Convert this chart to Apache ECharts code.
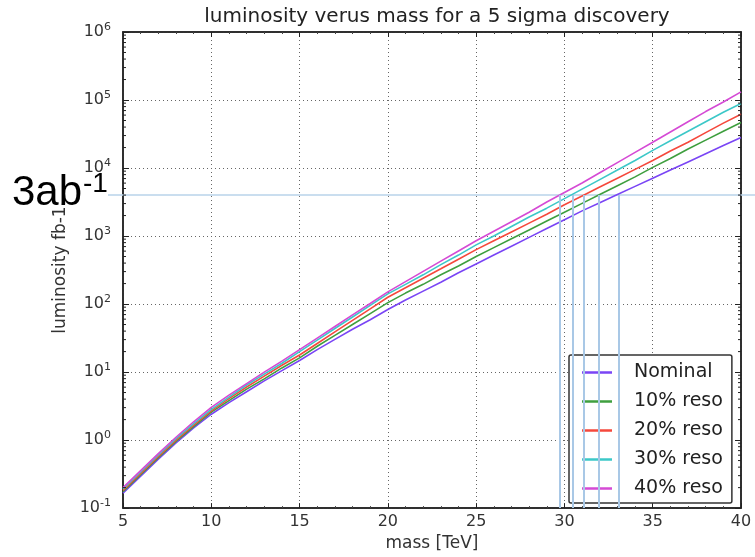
<!DOCTYPE html>
<html>
<head>
<meta charset="utf-8">
<script src="https://cdn.jsdelivr.net/npm/echarts@6/dist/echarts.min.js"></script>
<style>html,body{margin:0;padding:0;background:#fff}#c{width:755px;height:557px}</style>
</head>
<body>
<div id="c"></div>
<script>
// ---- data ----
const mass = [5,6,7,8,9,10,11,12,13,14,15,16,17,18,19,20,21,22,23,24,25,26,27,28,29,30,31,32,33,34,35,36,37,38,39,40];
const nominal = [0.166,0.295,0.525,0.912,1.51,2.40,3.55,5.13,7.41,10.5,14.8,21.4,30.2,42.7,58.9,83.2,115,155,209,288,389,525,708,955,1288,1738,2344,3090,4074,5370,7079,9333,12303,16218,21380,28184];
const reso10 = [0.174,0.309,0.550,0.955,1.58,2.57,3.80,5.62,7.94,11.5,16.2,24.0,34.7,50.1,72.4,105,145,195,269,363,501,676,912,1230,1660,2239,3020,4074,5495,7413,10233,13804,19055,25704,34674,46774];
const reso20 = [0.182,0.324,0.575,1.00,1.66,2.69,4.07,6.03,8.71,12.6,17.8,26.3,38.9,57.5,85.1,126,174,240,331,457,631,851,1148,1549,2089,2884,3890,5248,7079,9550,12882,17783,23988,33113,45709,61660];
const reso30 = [0.191,0.339,0.603,1.05,1.74,2.82,4.27,6.46,9.33,13.5,20.0,29.5,43.7,64.6,95.5,141,195,269,380,525,741,1000,1380,1905,2570,3548,4898,6761,9333,12882,18197,25119,34674,47863,66069,89125];
const reso40 = [0.200,0.355,0.631,1.10,1.86,3.02,4.57,6.76,10.0,14.5,21.4,31.6,46.8,69.2,102,151,214,302,427,603,851,1175,1622,2239,3162,4365,6026,8511,12023,16982,23988,33884,47863,67608,93325,131826];
const seriesNames = ['Nominal','10% reso','20% reso','30% reso','40% reso'];
const seriesColors = ['#7a45f5','#3f9f3f','#f5483c','#3cc8c8','#d54ad5'];
const target = 4000;                      // "3ab-1" reference level
const crossMass = [29.75,30.45,31.12,31.95,33.07]; // vertical markers
const yTickExp = ['-1','0','1','2','3','4','5','6'];
const yMinorTicks = [];
[0.1,1,10,100,1000,10000,100000].forEach(d => { [2,3,4,5,6,7,8,9].forEach(k => yMinorTicks.push(+(d * k).toPrecision(3))); });

const chart = echarts.init(document.getElementById('c'));
const allSeries = [nominal, reso10, reso20, reso30, reso40];
const font = 'DejaVu Sans';

const lineSeries = allSeries.map((vals, k) => ({
  name: seriesNames[k],
  type: 'line',
  data: mass.map((m, i) => [m, vals[i]]),
  showSymbol: false,
  symbol: 'none',
  lineStyle: {color: seriesColors[k], width: 1.6},
  itemStyle: {color: seriesColors[k]},
  z: 3,
  animation: false
}));

lineSeries.push({
  name: 'marks',
  type: 'line',
  data: [],
  animation: false,
  markLine: {
    silent: true,
    symbol: ['none','none'],
    label: {show: false},
    lineStyle: {color: '#a9c8e6', width: 2, type: 'solid'},
    data: crossMass.map(m => [{coord: [m, 0.1]}, {coord: [m, target]}])
  },
  z: 6
});

// minor ticks on the log axes (left and right), placed through the axis scale
lineSeries.push({
  name: 'minorTicks',
  type: 'custom',
  silent: true,
  animation: false,
  clip: false,
  data: yMinorTicks.map(v => [5, v]),
  renderItem: (params, api) => {
    const v = api.value(1);
    const pl = api.coord([5, v]);
    const pr = api.coord([40, v]);
    return {type: 'group', children: [
      {type: 'line', shape: {x1: pl[0], y1: pl[1], x2: pl[0] + 3, y2: pl[1]}, style: {stroke: '#222', lineWidth: 1}},
      {type: 'line', shape: {x1: pr[0] - 3, y1: pr[1], x2: pr[0], y2: pr[1]}, style: {stroke: '#222', lineWidth: 1}}
    ]};
  },
  z: 4
});

const yLabelFmt = v => {
  const e = Math.round(Math.log10(v));
  const idx = e + 1;
  return '{b|10}{s|' + (yTickExp[idx] !== undefined ? yTickExp[idx] : e) + '}';
};

chart.setOption({
  backgroundColor: '#fff',
  animation: false,
  title: {
    text: 'luminosity verus mass for a 5 sigma discovery',
    left: 432, top: 2, textAlign: 'center',
    textStyle: {fontFamily: font, fontSize: 20, fontWeight: 'normal', color: '#222'}
  },
  grid: {left: 123, right: 14, top: 32, bottom: 45, show: true, borderColor: '#222', borderWidth: 1.5},
  legend: {
    data: seriesNames,
    orient: 'vertical',
    left: 569, top: 355,
    padding: [8, 9, 5, 13],
    itemGap: 10,
    itemWidth: 30, itemHeight: 2.5,
    icon: 'rect',
    backgroundColor: '#fff',
    borderColor: '#333', borderWidth: 1.5, borderRadius: 2,
    z: 4,
    textStyle: {fontFamily: font, fontSize: 19, color: '#222', padding: [0, 0, 0, 17]}
  },
  xAxis: [{
    type: 'value', min: 5, max: 40, interval: 5,
    name: 'mass [TeV]', nameLocation: 'middle', nameGap: 25,
    nameTextStyle: {fontFamily: font, fontSize: 17, color: '#333'},
    axisLine: {show: true, lineStyle: {color: '#222', width: 1.5}},
    axisTick: {show: true, inside: true, length: 5, lineStyle: {color: '#222'}},
    minorTick: {show: true, splitNumber: 5, length: 2, lineStyle: {color: '#444'}},
    axisLabel: {fontFamily: font, fontSize: 16, color: '#333', margin: 6},
    splitLine: {show: true, lineStyle: {color: '#666', type: [1, 3], width: 1}}
  }, {
    type: 'value', min: 5, max: 40, interval: 5, position: 'top',
    axisLine: {show: true, lineStyle: {color: '#222', width: 1.5}},
    axisTick: {show: true, inside: true, length: 5, lineStyle: {color: '#222'}},
    minorTick: {show: true, splitNumber: 5, length: 2, lineStyle: {color: '#444'}},
    axisLabel: {show: false}, splitLine: {show: false}
  }],
  yAxis: [{
    type: 'log', logBase: 10, min: 0.1, max: 1e6,
    name: 'luminosity fb-1', nameLocation: 'middle', nameGap: 53, nameRotate: 90,
    nameTextStyle: {fontFamily: font, fontSize: 17, color: '#333'},
    axisLine: {show: true, lineStyle: {color: '#222', width: 1.5}},
    axisTick: {show: true, inside: true, length: 6, lineStyle: {color: '#222'}},
    axisLabel: {
      margin: 12, formatter: yLabelFmt,
      rich: {
        b: {fontFamily: font, fontSize: 16, color: '#333'},
        s: {fontFamily: font, fontSize: 11, color: '#333', padding: [0, 0, 9, 0]}
      }
    },
    splitLine: {show: true, lineStyle: {color: '#666', type: [1, 3], width: 1}}
  }, {
    type: 'log', logBase: 10, min: 0.1, max: 1e6, position: 'right',
    axisLine: {show: true, lineStyle: {color: '#222', width: 1.5}},
    axisTick: {show: true, inside: true, length: 6, lineStyle: {color: '#222'}},
    axisLabel: {show: false}, splitLine: {show: false}
  }],
  series: lineSeries
});

// annotation: horizontal reference level extending across the picture, and its label
const yT = chart.convertToPixel({yAxisIndex: 0}, target);
chart.setOption({
  graphic: [
    {type: 'line', silent: true, z: 1,
     shape: {x1: 108, y1: yT, x2: 755, y2: yT},
     style: {stroke: '#b8d3ea', lineWidth: 1.5}},
    {type: 'text', silent: true, z: 10,
     style: {x: 12, y: yT - 2, text: '3ab', font: '42px "Liberation Sans", Arial, sans-serif', fill: '#000', textVerticalAlign: 'middle'}},
    {type: 'text', silent: true, z: 10,
     style: {x: 83, y: yT - 11, text: '-1', font: '28px "Liberation Sans", Arial, sans-serif', fill: '#000', textVerticalAlign: 'middle'}}
  ]
});
</script>
</body>
</html>
